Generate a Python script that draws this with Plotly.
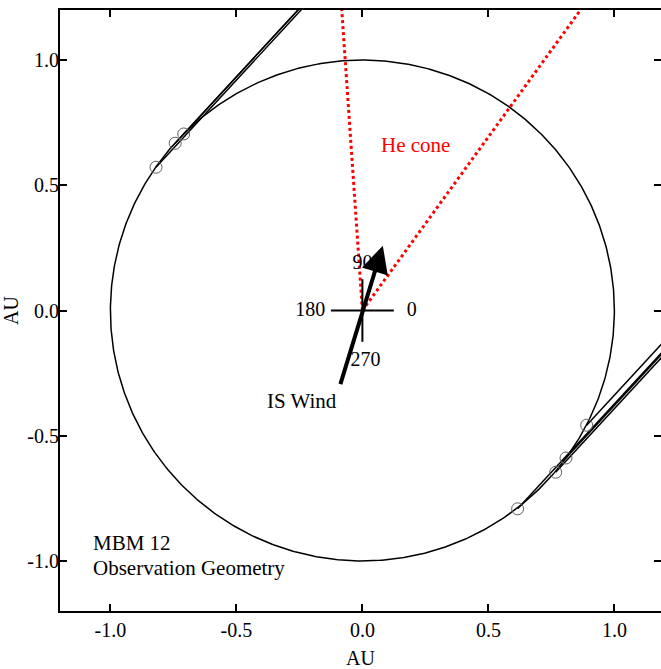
import numpy as np
import plotly.graph_objects as go

# ---- data ----
orbit_radius = 1.0
# Earth positions (AU) at the times of the observations
obs_x = [-0.819, -0.743, -0.709, 0.616, 0.767, 0.808, 0.890]
obs_y = [0.572, 0.668, 0.705, -0.792, -0.646, -0.589, -0.458]
# line-of-sight direction toward MBM 12 (deg, from +x axis)
sight_angle = [47.5, 47.5, 47.5, 47.5, 47.5, 47.5, 47.5]
sight_length = 2.5

# He focusing cone edges (deg from +x axis)
he_cone_angles = [93.9, 54.2]
he_cone_length = 2.0

# interstellar wind arrow (tail -> tip, AU)
wind_tail = (-0.089, -0.300)
wind_tip = (0.081, 0.259)

# ecliptic longitude cross
cross_half = 0.125
cross_labels = ["0", "90", "180", "270"]
cross_label_x = [0.196, 0.0, -0.207, 0.012]
cross_label_y = [0.0, 0.186, 0.0, -0.200]

tick_vals = [-1.0, -0.5, 0.0, 0.5, 1.0]
tick_text = ["-1.0", "-0.5", "0.0", "0.5", "1.0"]

FONT = "Liberation Serif, Times New Roman, serif"

fig = go.Figure()

# orbit
th = np.linspace(0, 2 * np.pi, 721)
fig.add_trace(go.Scatter(x=orbit_radius * np.cos(th), y=orbit_radius * np.sin(th),
                         mode="lines", line=dict(color="black", width=1.5),
                         hoverinfo="skip"))

# lines of sight
lx, ly = [], []
for x0, y0, a in zip(obs_x, obs_y, sight_angle):
    r = np.deg2rad(a)
    lx += [x0, x0 + sight_length * np.cos(r), None]
    ly += [y0, y0 + sight_length * np.sin(r), None]
fig.add_trace(go.Scatter(x=lx, y=ly, mode="lines",
                         line=dict(color="black", width=1.5), hoverinfo="skip"))

# He cone
cx, cy = [], []
for a in he_cone_angles:
    r = np.deg2rad(a)
    cx += [0, he_cone_length * np.cos(r), None]
    cy += [0, he_cone_length * np.sin(r), None]
fig.add_trace(go.Scatter(x=cx, y=cy, mode="lines",
                         line=dict(color="red", width=3, dash="dot"), hoverinfo="skip"))

# cross
fig.add_trace(go.Scatter(x=[-cross_half, cross_half, None, 0, 0],
                         y=[0, 0, None, cross_half, -cross_half],
                         mode="lines", line=dict(color="black", width=2), hoverinfo="skip"))

# observation markers
fig.add_trace(go.Scatter(x=obs_x, y=obs_y, mode="markers",
                         marker=dict(symbol="circle-open", size=12,
                                     color="#606060", line=dict(width=1)),
                         hoverinfo="skip"))

# cross labels
fig.add_trace(go.Scatter(x=cross_label_x, y=cross_label_y, mode="text", text=cross_labels,
                         textfont=dict(family=FONT, size=20, color="black"),
                         hoverinfo="skip"))

# IS wind arrow
fig.add_annotation(x=wind_tip[0], y=wind_tip[1], ax=wind_tail[0], ay=wind_tail[1],
                   xref="x", yref="y", axref="x", ayref="y", text="",
                   showarrow=True, arrowhead=2, arrowsize=1.35, arrowwidth=4,
                   arrowcolor="black", standoff=0)

fig.add_annotation(x=-0.24, y=-0.36, text="IS Wind", showarrow=False,
                   font=dict(family=FONT, size=21, color="black"))
fig.add_annotation(x=0.209, y=0.659, text="He cone", showarrow=False,
                   font=dict(family=FONT, size=21, color="red"))
fig.add_annotation(x=-1.078, y=-0.927, text="MBM 12", showarrow=False, xanchor="left",
                   font=dict(family=FONT, size=21, color="black"))
fig.add_annotation(x=-1.078, y=-1.028, text="Observation Geometry", showarrow=False,
                   xanchor="left", font=dict(family=FONT, size=21, color="black"))

axis_common = dict(showline=True, linecolor="black", linewidth=2, mirror="ticks",
                   ticks="inside", ticklen=7, tickwidth=2, tickcolor="black",
                   showgrid=False, zeroline=False, tickvals=tick_vals, ticktext=tick_text,
                   automargin=False,
                   tickfont=dict(family=FONT, size=20, color="black"),
                   title=dict(text="AU", font=dict(family=FONT, size=20, color="black")))

fig.update_layout(
    width=661, height=669,
    margin=dict(l=60, r=0, t=10, b=58),
    paper_bgcolor="white", plot_bgcolor="white",
    showlegend=False,
    xaxis=dict(range=[-1.2, 1.185], **axis_common),
    yaxis=dict(range=[-1.2, 1.2], ticklabelstandoff=-5, **axis_common),
)

fig.write_html("out.html")
